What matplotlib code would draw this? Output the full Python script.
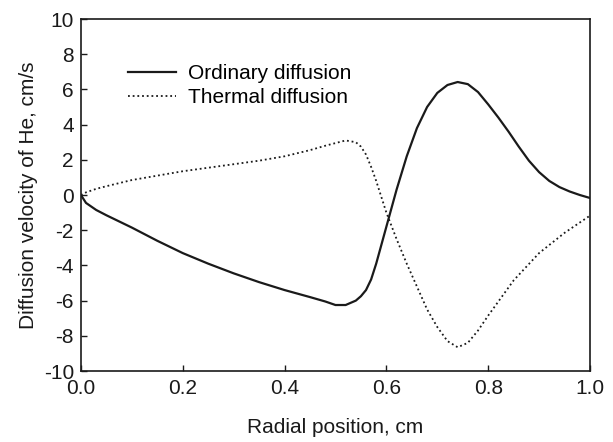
import numpy as np
import matplotlib.pyplot as plt

plt.rcParams['font.family'] = ['Liberation Sans', 'DejaVu Sans']
plt.rcParams['axes.unicode_minus'] = False

# Ordinary diffusion (solid line)
x_ord = [0.0, 0.01, 0.03, 0.05, 0.1, 0.15, 0.2, 0.25, 0.3, 0.35, 0.4, 0.45,
         0.48, 0.5, 0.52, 0.54, 0.55, 0.56, 0.57, 0.58, 0.6, 0.62, 0.64, 0.66,
         0.68, 0.7, 0.72, 0.74, 0.76, 0.78, 0.8, 0.82, 0.84, 0.86, 0.88, 0.9,
         0.92, 0.94, 0.96, 0.98, 1.0]
v_ord = [0.0, -0.45, -0.85, -1.15, -1.85, -2.6, -3.3, -3.9, -4.45, -4.95, -5.4, -5.8,
         -6.05, -6.25, -6.25, -6.0, -5.75, -5.4, -4.8, -3.9, -1.8, 0.3, 2.2, 3.8,
         5.0, 5.8, 6.25, 6.42, 6.3, 5.85, 5.15, 4.4, 3.6, 2.75, 1.95, 1.3,
         0.8, 0.45, 0.2, 0.0, -0.17]

# Thermal diffusion (dotted line)
x_th = [0.0, 0.01, 0.03, 0.05, 0.1, 0.15, 0.2, 0.25, 0.3, 0.35, 0.4, 0.45,
        0.48, 0.5, 0.52, 0.54, 0.55, 0.56, 0.57, 0.58, 0.6, 0.62, 0.64, 0.66,
        0.68, 0.7, 0.72, 0.74, 0.76, 0.78, 0.8, 0.85, 0.9, 0.95, 1.0]
v_th = [0.0, 0.15, 0.35, 0.5, 0.85, 1.1, 1.35, 1.55, 1.75, 1.95, 2.2, 2.55,
        2.8, 2.95, 3.1, 3.0, 2.75, 2.3, 1.6, 0.8, -1.0, -2.5, -3.9, -5.2,
        -6.5, -7.5, -8.3, -8.65, -8.4, -7.7, -6.85, -4.85, -3.3, -2.15, -1.17]

fig = plt.figure(figsize=(6.13, 4.42), dpi=100)
ax = fig.add_axes([0.132, 0.1606, 0.8305, 0.7964])

ax.plot(x_ord, v_ord, color='#1a1a1a', lw=1.6, label='Ordinary diffusion')
ax.plot(x_th, v_th, color='#1a1a1a', lw=1.3, ls=(0, (1, 1.6)), label='Thermal diffusion')

ax.set_xlim(0, 1)
ax.set_ylim(-10, 10)
ax.set_xticks(np.arange(0, 1.01, 0.2))
ax.set_xticklabels(['0.0', '0.2', '0.4', '0.6', '0.8', '1.0'])
ax.set_yticks(np.arange(-10, 11, 2))
ax.tick_params(direction='in', length=4, labelsize=15, width=1, colors='#1a1a1a')
ax.tick_params(axis='x', pad=6)
ax.tick_params(axis='y', pad=5)
for s in ax.spines.values():
    s.set_linewidth(1.2)
    s.set_color('#1a1a1a')

ax.set_xlabel('Radial position, cm', fontsize=15, labelpad=14, color='#1a1a1a')
ax.set_ylabel('Diffusion velocity of He, cm/s', fontsize=15, labelpad=4, color='#1a1a1a')

ax.legend(loc='upper left', bbox_to_anchor=(0.055, 0.925), frameon=False, fontsize=15,
          handlelength=2.3, handletextpad=0.6, labelspacing=0.25)

fig.savefig('out.png', dpi=100)
